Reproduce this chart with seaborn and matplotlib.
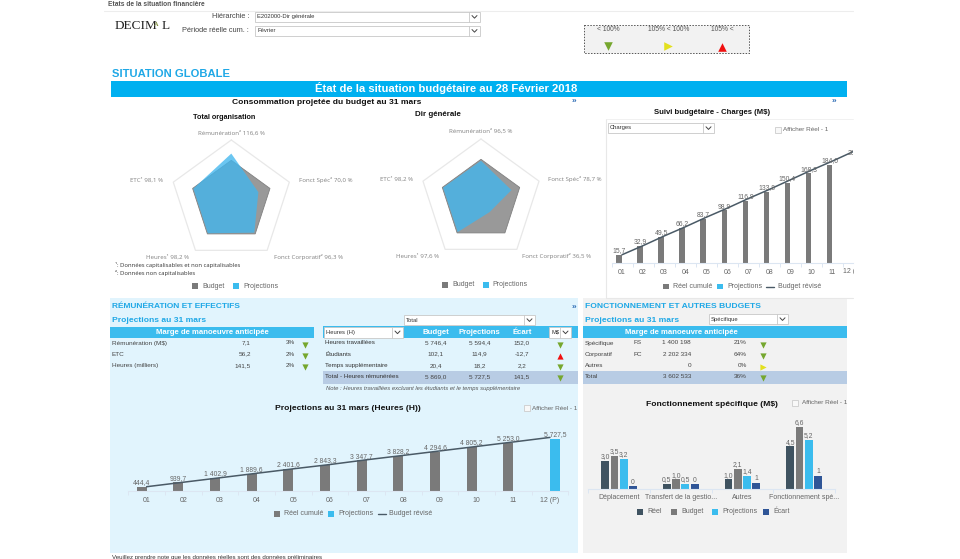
import numpy as np
import pandas as pd
import matplotlib
matplotlib.use("Agg")
import matplotlib.pyplot as plt
from matplotlib.patches import Rectangle
from matplotlib.transforms import Bbox
import seaborn as sns

# ---------- data ----------
radar_axes = ["Rémunération", "Fonct Spéc", "Fonct Corporatif", "Heures", "ETC"]
radar_budget = [100, 100, 100, 100, 100]
radar_total = [116.6, 70.0, 96.3, 98.2, 98.1]
radar_dir = [96.5, 78.7, 36.5, 97.6, 98.2]

months = ["01", "02", "03", "04", "05", "06", "07", "08", "09", "10", "11", "12 (P)"]
charges_real = [15.7, 32.9, 49.5, 66.2, 83.7, 98.9, 116.9, 133.8, 150.4, 168.3, 184.0]
charges_proj = [200.0]
charges_budget = [16, 33, 51, 68, 86, 103, 121, 138, 156, 174, 191, 209]
charges_labels = ["15,7", "32,9", "49,5", "66,2", "83,7", "98,9", "116,9", "133,8", "150,4", "168,3", "184,0"]
charges_proj_labels = ["200,0"]

hours_real = [444.4, 939.7, 1402.9, 1889.6, 2401.6, 2843.3, 3347.7, 3828.2, 4294.6, 4805.2, 5253.0]
hours_proj = [5727.5]
hours_budget = [470, 960, 1450, 1940, 2430, 2900, 3420, 3900, 4390, 4880, 5370, 5869]
hours_labels = ["444,4", "939,7", "1 402,9", "1 889,6", "2 401,6", "2 843,3", "3 347,7",
                "3 828,2", "4 294,6", "4 805,2", "5 253,0"]
hours_proj_labels = ["5 727,5"]

fs_cats = ["Déplacement", "Transfert de la gestio...", "Autres", "Fonctionnement spé..."]
fs_real = [3.0, 0.5, 1.0, 4.5]
fs_budget = [3.5, 1.0, 2.1, 6.6]
fs_proj = [3.2, 0.5, 1.4, 5.2]
fs_ecart = [0.25, 0.45, 0.6, 1.4]
fs_real_labels = ["3,0", "0,5", "1,0", "4,5"]
fs_budget_labels = ["3,5", "1,0", "2,1", "6,6"]
fs_proj_labels = ["3,2", "0,5", "1,4", "5,2"]
fs_ecart_labels = ["0", "0", "1", "1"]

marge_rows = ["Rémunération (M$)", "ETC", "Heures (milliers)"]
marge_vals = ["7,1", "56,2", "141,5"]
marge_pct = ["3%", "2%", "2%"]
marge_sign = ["down", "down", "down"]

heures_rows = ["Heures travaillées", "Étudiants", "Temps supplémentaire", "Total - Heures rémunérées"]
heures_budget = ["5 746,4", "102,1", "20,4", "5 869,0"]
heures_proj = ["5 594,4", "114,9", "18,2", "5 727,5"]
heures_ecart = ["152,0", "-12,7", "2,2", "141,5"]
heures_sign = ["down", "up", "down", "down"]

fonc_rows = ["Spécifique", "Corporatif", "Autres", "Total"]
fonc_code = ["FS", "FC", "", ""]
fonc_vals = ["1 400 198", "2 202 334", "0", "3 602 533"]
fonc_pct = ["21%", "64%", "0%", "36%"]
fonc_sign = ["down", "down", "right", "down"]

# ---------- style ----------
sns.set_theme(style="white")
plt.rcParams["font.family"] = ["Liberation Sans", "DejaVu Sans"]
W, H = 960, 559
fig = plt.figure(figsize=(W / 100, H / 100), dpi=100, facecolor="white")

BLUE = "#3BBCEE"
CYAN = "#00B0F0"
TITLEBLUE = "#1FA8E6"
GREY = "#7A7A7A"
TXT = "#444444"
SOFT = "#666666"
AXLINE = "#DCE6F2"
TOTALROW = "#B8CCE4"
GREEN = "#76A72E"
YELLOW = "#E3E01E"
RED = "#F01010"

bg = fig.add_axes([0, 0, 1, 1], zorder=0)
bg.set_xlim(0, W)
bg.set_ylim(H, 0)
bg.axis("off")


def px_axes(l, t, r, b, **kw):
    ax = fig.add_axes([l / W, 1 - b / H, (r - l) / W, (b - t) / H], zorder=2, **kw)
    ax.patch.set_alpha(0)
    return ax


def box(l, t, r, b, fc, ec="none", lw=0, z=1, ls="-"):
    bg.add_patch(Rectangle((l, t), r - l, b - t, facecolor=fc, edgecolor=ec, linewidth=lw, zorder=z, linestyle=ls))


def txt(x, y, s, size=5.5, color=TXT, ha="left", weight="normal", **kw):
    return bg.text(x, y, s, fontsize=size, color=color, ha=ha, va="center", weight=weight, zorder=5, **kw)


def dropdown(l, t, r, b, label, size=4.2):
    box(l, t, r, b, "white", "#C8C8C8", 0.6, z=3)
    bg.plot([r - 11, r - 11], [t, b], color="#C8C8C8", lw=0.6, zorder=4)
    mx, my = r - 5.5, (t + b) / 2
    bg.plot([mx - 2.5, mx, mx + 2.5], [my - 1.2, my + 1.4, my - 1.2], color="#444444", lw=0.7, zorder=4)
    txt(l + 2, my, label, size=size, color="#333333")


def checkbox(x, y, tx):
    box(x - 3, y - 3, x + 3, y + 3, "#F8F8F8", "#CCCCCC", 0.6, z=3)
    txt(tx, y, "Afficher Réel - 1", size=4.6, color=SOFT)


def tri(x, y, kind, s=20):
    m = {"down": ("v", GREEN), "up": ("^", RED), "right": (">", YELLOW)}[kind]
    bg.scatter([x], [y], marker=m[0], s=s, color=m[1], linewidths=0, zorder=5)


def leg_square(x, y, color, label, tx, size=5):
    box(x - 2.8, y - 2.8, x + 2.8, y + 2.8, color, z=3)
    txt(tx, y, label, size=size, color=SOFT)


def leg_line(x0, x1, y, color, label, tx, size=5):
    bg.plot([x0, x1], [y, y], color=color, lw=1, zorder=3)
    txt(tx, y, label, size=size, color=SOFT)


# ---------- page furniture ----------
txt(108, 4, "Etats de la situation financière", size=4.8, color="#555555", weight="bold")
bg.plot([104, 853], [10.5, 10.5], color="#EDEDED", lw=0.8)
txt(115, 26, "DECIM", size=9.5, color="#222222", family="Liberation Serif")
txt(153.5, 25, "A", size=4.5, color="#7C8A3A", family="Liberation Serif", weight="bold")
txt(161.5, 26, "L", size=9.5, color="#222222", family="Liberation Serif")
txt(249, 17, "Hiérarchie :", size=5.3, ha="right", color="#444444")
txt(249, 30.5, "Période réelle cum. :", size=5.3, ha="right", color="#444444")
dropdown(255, 11.5, 480, 22, "E202000-Dir générale")
dropdown(255, 25.5, 480, 36, "Février")

box(584, 24.5, 749, 52.5, "#F2F2F2", "#555555", 0.7, ls=(0, (1.5, 1.5)))
txt(608, 29.5, "< 100%", size=4.8, ha="center", color="#555555")
txt(669, 29.5, "105% < 100%", size=4.8, ha="center", color="#555555")
txt(722, 29.5, "105% <", size=4.8, ha="center", color="#555555")
tri(608, 46, "down", 38)
tri(668, 46, "right", 38)
tri(722, 46.5, "up", 38)

txt(112, 74, "SITUATION GLOBALE", size=8.1, color=TITLEBLUE, weight="bold")
box(111, 81, 847, 96.5, CYAN)
txt(446, 88.5, "État de la situation budgétaire au 28 Février 2018", size=8.1, color="white", weight="bold", ha="center")
txt(327, 103, "Consommation projetée du budget au 31 mars", size=6.1, color="#111111", weight="bold", ha="center")
txt(574, 102, "»", size=6, color="#2F6DB5", ha="center", weight="bold")
txt(834, 102, "»", size=6, color="#2F6DB5", ha="center", weight="bold")


# ---------- radars ----------
def radar(cx, cy, values):
    R = 61
    ax = px_axes(cx - R, cy - R, cx + R, cy + R, projection="polar")
    ax.set_theta_zero_location("N")
    ax.set_theta_direction(-1)
    ax.set_ylim(0, 150)
    ax.axis("off")
    th = np.linspace(0, 2 * np.pi, len(radar_axes), endpoint=False)
    th = np.r_[th, th[0]]
    ax.plot(th, [150] * len(th), color="#E8E8E8", lw=0.9, clip_on=False)
    ax.fill(th, radar_budget + radar_budget[:1], facecolor="#999999", edgecolor="#808080", lw=0.6)
    ax.fill(th, values + values[:1], facecolor="#41B6EE", edgecolor="none", alpha=0.78)


radar(231.3, 201, radar_total)
radar(481, 200, radar_dir)

txt(224, 117.3, "Total organisation", size=5.2, color="#111111", weight="bold", ha="center")
RF = dict(size=4.4, color="#808080", ha="center", family="Open Sans")
txt(231.7, 132.7, "Rémunération² 116,6 %", **RF)
txt(326, 180, "Fonct Spéc² 70,0 %", **RF)
txt(308, 257, "Fonct Corporatif² 96,3 %", **RF)
txt(168, 257, "Heures¹ 98,2 %", **RF)
txt(147, 180, "ETC¹ 98,1 %", **RF)
txt(115, 265, "¹: Données capitalisables et non capitalisables", size=4.2, color="#333333", family="Open Sans")
txt(115, 273, "²: Données non capitalisables", size=4.2, color="#333333", family="Open Sans")
leg_square(195, 286, GREY, "Budget", 202)
leg_square(236, 286, BLUE, "Projections", 243)

txt(438, 114, "Dir générale", size=5.7, color="#111111", weight="bold", ha="center")
txt(481, 131, "Rémunération² 96,5 %", **RF)
txt(575, 179, "Fonct Spéc² 78,7 %", **RF)
txt(557, 256, "Fonct Corporatif² 36,5 %", **RF)
txt(418, 256, "Heures¹ 97,6 %", **RF)
txt(396, 179, "ETC¹ 98,2 %", **RF)
leg_square(445, 285, GREY, "Budget", 452)
leg_square(486, 285, BLUE, "Projections", 492)


# ---------- column + line charts ----------
def style_axis(ax, n, xmax, ticklabels, size=5):
    ax.set_xticks(np.arange(n))
    ax.set_xticklabels(ticklabels, fontsize=size, color=SOFT)
    ax.set_xticks(np.arange(n + 1) - 0.5, minor=True)
    ax.set_xlim(-0.5, xmax)
    ax.tick_params(axis="x", which="major", length=0, pad=4)
    ax.tick_params(axis="x", which="minor", length=3, color=AXLINE, width=0.7, bottom=True)
    ax.set_yticks([])
    ax.set_xlabel("")
    ax.set_ylabel("")
    for side in ("top", "left", "right"):
        ax.spines[side].set_visible(False)
    ax.spines["bottom"].set_color(AXLINE)
    ax.spines["bottom"].set_linewidth(0.8)


def combo(rect, cats, real, proj, budget, labels, proj_labels, ymax, xmax=None):
    ax = px_axes(*rect)
    df = pd.DataFrame({
        "Mois": cats,
        "Valeur": list(real) + list(proj),
        "Série": ["Réel cumulé"] * len(real) + ["Projections"] * len(proj),
    })
    sns.barplot(data=df, x="Mois", y="Valeur", hue="Série", order=cats,
                hue_order=["Réel cumulé", "Projections"], dodge=True,
                palette={"Réel cumulé": GREY, "Projections": BLUE},
                width=0.54, saturation=1, legend=False, linewidth=0, ax=ax)
    sns.lineplot(x=np.arange(len(cats)), y=budget, color="#4A5A66", lw=1.1, ax=ax, zorder=4)
    ax.bar_label(ax.containers[0], labels=labels, fontsize=4.9, color=SOFT, padding=0.5, zorder=5)
    ax.bar_label(ax.containers[1], labels=proj_labels, fontsize=4.9, color=SOFT, padding=0.5, zorder=5,
                 clip_on=True, annotation_clip=False)
    ax.set_ylim(0, ymax)
    style_axis(ax, len(cats), xmax if xmax else len(cats) - 0.5, cats)
    return ax


# Suivi budgétaire
bg.plot([606, 606, 853], [119, 298, 298], color="#E8E8E8", lw=0.8)
bg.plot([606, 853], [119, 119], color="#EFEFEF", lw=0.6)
txt(712, 113, "Suivi budgétaire - Charges (M$)", size=5.6, color="#111111", weight="bold", ha="center")
dropdown(608, 123, 714, 133, "Charges")
checkbox(778, 129.5, 783)
combo((611.5, 140, 853, 263.3), months, charges_real, charges_proj, charges_budget,
      charges_labels, charges_proj_labels, (263.3 - 140) / 0.535, xmax=10.98)
# last month's tick label, cut off by the edge of the screenshot as in the source
last_tick = txt(853, 271.7, months[-1], size=5, color=SOFT, ha="center")
last_tick.set_clip_box(Bbox([[0, 0], [853.5, H]]))
last_tick.set_clip_on(True)
leg_square(666, 286.5, GREY, "Réel cumulé", 673)
leg_square(720, 286.5, BLUE, "Projections", 727)
leg_line(766, 774, 286.5, "#4A5A66", "Budget révisé", 778)

# panels
box(110, 298, 578, 553, "#E1F4FD", z=0)
box(583, 298, 847, 553, "#F2F2F2", z=0)

# left tables
txt(111.5, 306, "RÉMUNÉRATION ET EFFECTIFS", size=6, color=TITLEBLUE, weight="bold")
txt(111.5, 320, "Projections au 31 mars", size=6.1, color=TITLEBLUE, weight="bold")
txt(574, 307, "»", size=6, color="#2F6DB5", ha="center", weight="bold")
box(110, 327, 314, 338, BLUE)
txt(212, 332.5, "Marge de manoeuvre anticipée", size=5.6, color="white", weight="bold", ha="center")
for i, y in enumerate([343, 354, 365.3]):
    txt(111.5, y, marge_rows[i], size=4.6, color="#444444")
    txt(251, y, marge_vals[i], size=4.6, ha="right")
    txt(295, y, marge_pct[i], size=4.6, ha="right")
    tri(305, y + 1.5, marge_sign[i])

dropdown(404, 315, 535, 325, "Total")
box(323, 326, 578, 338, BLUE)
dropdown(323.5, 326.5, 403, 338, "Heures (H)")
txt(435.7, 332, "Budget", size=5.6, color="white", weight="bold", ha="center")
txt(479.5, 332, "Projections", size=5.6, color="white", weight="bold", ha="center")
txt(522, 332, "Écart", size=5.6, color="white", weight="bold", ha="center")
dropdown(549, 326.5, 571, 338, "M$")
box(323, 371, 578, 384, TOTALROW)
for i, y in enumerate([343, 354, 365.5, 376.5]):
    txt(325, y, heures_rows[i], size=4.5, color="#333333")
    txt(435.7, y, heures_budget[i], size=4.6, ha="center")
    txt(479.5, y, heures_proj[i], size=4.6, ha="center")
    txt(522, y, heures_ecart[i], size=4.6, ha="center")
    tri(560, y + 1.5, heures_sign[i])
txt(326, 388.3, "Note : Heures travaillées excluant les étudiants et le temps supplémentaire",
    size=4.2, color="#555555", style="italic")

# right tables
txt(585, 306, "FONCTIONNEMENT ET AUTRES BUDGETS", size=6.1, color=TITLEBLUE, weight="bold")
txt(585, 320, "Projections au 31 mars", size=6.1, color=TITLEBLUE, weight="bold")
dropdown(709, 314, 788, 324, "Spécifique")
box(583, 326, 847, 338, BLUE)
txt(681.7, 332, "Marge de manoeuvre anticipée", size=5.6, color="white", weight="bold", ha="center")
box(583, 371, 847, 384, TOTALROW)
for i, y in enumerate([343, 354.5, 365.5, 376.5]):
    txt(585, y, fonc_rows[i], size=4.6, color="#444444")
    txt(633, y, fonc_code[i], size=4.6, color="#444444")
    txt(691, y, fonc_vals[i], size=4.6, ha="right")
    txt(746.7, y, fonc_pct[i], size=4.6, ha="right")
    tri(763, y + 1.5, fonc_sign[i])

# Projections heures
txt(348, 409, "Projections au 31 mars (Heures (H))", size=6.1, color="#111111", weight="bold", ha="center")
checkbox(526.7, 408, 532)
combo((128.3, 425, 568.3, 491), months, hours_real, hours_proj, hours_budget,
      hours_labels, hours_proj_labels, 66 / 0.00913)
leg_square(276.7, 513.7, GREY, "Réel cumulé", 284)
leg_square(330.7, 513.7, BLUE, "Projections", 338)
leg_line(378, 386, 513.7, "#4A5A66", "Budget révisé", 389)
txt(112, 557.5, "Veuillez prendre note que les données réelles sont des données préliminaires",
    size=4.4, color="#333333")

# Fonctionnement spécifique
txt(711.7, 404, "Fonctionnement spécifique (M$)", size=6.1, color="#111111", weight="bold", ha="center")
checkbox(795, 402.5, 801.6)
fs_series = {"Réel": fs_real, "Budget": fs_budget, "Projections": fs_proj, "Écart": fs_ecart}
fs_colors = {"Réel": "#3F5361", "Budget": GREY, "Projections": BLUE, "Écart": "#2F5597"}
fs_df = pd.DataFrame([(c, k, v[i]) for k, v in fs_series.items() for i, c in enumerate(fs_cats)],
                     columns=["Poste", "Série", "Valeur"])
axf = px_axes(588.2, 412, 835, 488.7)
sns.barplot(data=fs_df, x="Poste", y="Valeur", hue="Série", order=fs_cats, hue_order=list(fs_series),
            palette=fs_colors, width=0.6, gap=0.16, saturation=1, legend=False, linewidth=0, ax=axf)
for cont, labs in zip(axf.containers, [fs_real_labels, fs_budget_labels, fs_proj_labels, fs_ecart_labels]):
    axf.bar_label(cont, labels=labs, fontsize=4.9, color=SOFT, padding=0.5)
axf.set_ylim(0, (488.7 - 412) / 9.4)
style_axis(axf, len(fs_cats), len(fs_cats) - 0.5, fs_cats)
leg_square(640, 511.7, "#3F5361", "Réel", 647.5)
leg_square(674, 511.7, GREY, "Budget", 681)
leg_square(715, 511.7, BLUE, "Projections", 722)
leg_square(766, 511.7, "#2F5597", "Écart", 773)

fig.savefig("out.png", dpi=100, facecolor="white")
